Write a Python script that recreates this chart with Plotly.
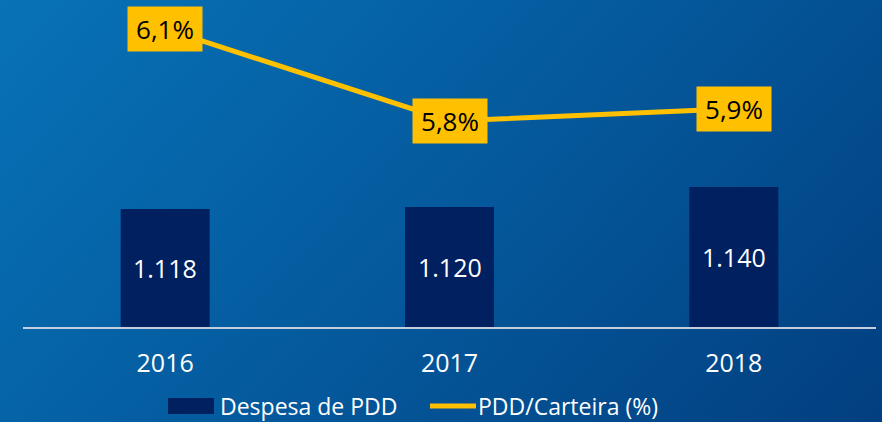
import base64
import plotly.graph_objects as go

# ---- data ----
years = ["2016", "2017", "2018"]
despesa_pdd = [1118, 1120, 1140]
pdd_carteira = [6.12, 5.82, 5.86]
series_names = ["Despesa de PDD", "PDD/Carteira (%)"]

# ---- style ----
W, H = 882, 422
L, R, T, B = 23, 6, 7, 95
PW, PH = W - L - R, H - T - B
Y_MIN = 1000
FONT = "Open Sans"
BAR_C = "#002060"
LINE_C = "#ffc000"

# gradient background as an inline svg image
svg = (
    '<svg xmlns="http://www.w3.org/2000/svg" width="882" height="422" preserveAspectRatio="none">'
    '<defs><linearGradient id="g" gradientUnits="userSpaceOnUse" x1="0" y1="0" x2="702" y2="656">'
    '<stop offset="0" stop-color="#0872b7"/>'
    '<stop offset="0.5" stop-color="#04599c"/>'
    '<stop offset="1" stop-color="#023d7e"/>'
    '</linearGradient></defs>'
    '<rect width="882" height="422" fill="url(#g)"/></svg>'
)
bg_src = "data:image/svg+xml;base64," + base64.b64encode(svg.encode()).decode()

fig = go.Figure()
fig.add_trace(go.Bar(
    x=years, y=despesa_pdd, name=series_names[0],
    marker=dict(color=BAR_C, line=dict(width=0)),
    showlegend=False,
))
fig.add_trace(go.Scatter(
    x=years, y=pdd_carteira, name=series_names[1], yaxis="y2",
    mode="lines", line=dict(color=LINE_C, width=5),
    showlegend=False,
))

annotations = []
# bar value labels, centred in the visible part of each bar
for i, v in enumerate(despesa_pdd):
    annotations.append(dict(
        x=i, y=(v + Y_MIN) / 2, xref="x", yref="y",
        text=f"{v:,.0f}".replace(",", "."),
        showarrow=False,
        font=dict(family=FONT, size=25, color="white"),
    ))
# line value labels
for i, v in enumerate(pdd_carteira):
    annotations.append(dict(
        x=i, y=v, xref="x", yref="y2",
        text=f"{v:.1f}".replace(".", ",") + "%",
        showarrow=False, bgcolor=LINE_C, borderpad=0,
        width=74, height=44,
        font=dict(family=FONT, size=26, color="black"),
    ))

def px2paper(px, py):
    return (px - L) / PW, (H - B - py) / PH

# manual legend
shapes = []
x0, y0 = px2paper(168, 414)
x1, y1 = px2paper(214, 398)
shapes.append(dict(type="rect", xref="paper", yref="paper", x0=x0, y0=y0, x1=x1, y1=y1,
                   fillcolor=BAR_C, line=dict(width=0)))
lx0, ly = px2paper(430, 406)
lx1, _ = px2paper(476, 406)
shapes.append(dict(type="line", xref="paper", yref="paper", x0=lx0, y0=ly, x1=lx1, y1=ly,
                   line=dict(color=LINE_C, width=5)))
tx, ty = px2paper(218, 406)
annotations.append(dict(x=tx, y=ty, xref="paper", yref="paper", xanchor="left", yanchor="middle",
                        text=series_names[0], showarrow=False,
                        font=dict(family=FONT, size=23, color="white")))
tx2, _ = px2paper(476, 406)
annotations.append(dict(x=tx2, y=ty, xref="paper", yref="paper", xanchor="left", yanchor="middle",
                        text=series_names[1], showarrow=False,
                        font=dict(family=FONT, size=23, color="white")))

fig.update_layout(
    width=W, height=H,
    margin=dict(l=L, r=R, t=T, b=B),
    paper_bgcolor="#0560a6", plot_bgcolor="rgba(0,0,0,0)",
    bargap=0.687,
    font=dict(family=FONT, color="white"),
    xaxis=dict(type="category", range=[-0.5, 2.5], showline=True, linecolor="#c5cedd",
               linewidth=2, showgrid=False, ticks="", ticklabelstandoff=13, zeroline=False,
               tickfont=dict(size=25, color="white", family=FONT)),
    yaxis=dict(range=[Y_MIN, Y_MIN + PH], visible=False, showgrid=False, zeroline=False),
    yaxis2=dict(overlaying="y", range=[5.82 - (H - B - 121) / 306.7, 5.82 + (121 - T) / 306.7],
                visible=False, showgrid=False, zeroline=False),
    images=[dict(source=bg_src, xref="paper", yref="paper",
                 x=-L / PW, y=1 + T / PH, sizex=W / PW, sizey=H / PH,
                 sizing="stretch", layer="below", xanchor="left", yanchor="top")],
    annotations=annotations,
    shapes=shapes,
    showlegend=False,
)

fig.write_html("out.html", config={"displayModeBar": False},
               post_script="document.body.style.margin='0';")
